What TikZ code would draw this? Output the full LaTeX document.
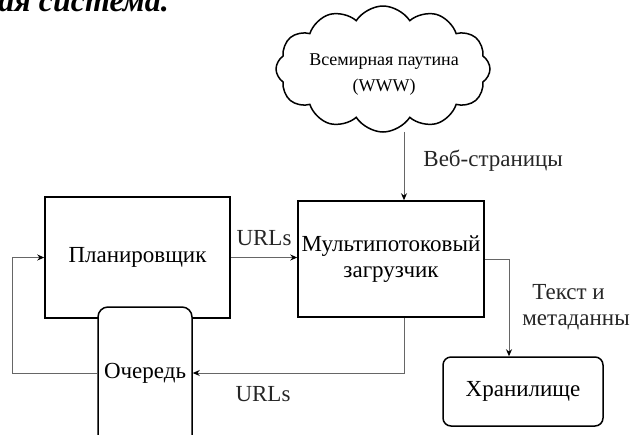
\documentclass[tikz,border=0pt]{standalone}
\usepackage{fontspec}
\setmainfont{Liberation Serif}
\usetikzlibrary{shapes.symbols,arrows.meta}
\begin{document}
\begin{tikzpicture}[x=0.5pt,y=-0.5pt,
  every node/.style={font=\fontsize{11.5}{13}\selectfont, inner sep=0pt},
  box/.style={draw=black, line width=0.75pt, fill=white},
  conn/.style={draw=black!60, line width=0.5pt, -{Stealth[length=3.5pt,width=3pt,black]}},
  lbl/.style={text=black!85}]
\useasboundingbox (0,0) rectangle (630,434);
% title (cut off at top)
\node[anchor=base west, font=\fontsize{16}{18}\selectfont\bfseries\itshape] (title) at (-2,11.5) {ая система.};
% cloud
\node[draw=black, line width=0.75pt, cloud, cloud puffs=12, cloud puff arc=115, aspect=1.7,
      inner sep=0pt, minimum width=107pt, minimum height=63pt] (cloud) at (383,69) {};
\node[align=center, font=\fontsize{9}{13}\selectfont] (www) at (384,75) {Всемирная паутина\\(WWW)};
% boxes
\node[box, minimum width=92.5pt, minimum height=60.5pt] (pl) at (137.5,257.5) {Планировщик};
\node[box, minimum width=93pt, minimum height=58pt, align=center] (dl) at (391,259) {Мультипотоковый\\загрузчик};
\node[box, rounded corners=5pt, minimum width=47pt, minimum height=82pt] (q) at (145,389) {};
\node (ql) at (145,373) {Очередь};
\node[box, rounded corners=4pt, minimum width=80pt, minimum height=34.5pt] (st) at (523,391.5) {Хранилище};
% helper coordinates
\coordinate (wx) at (404,0);
\coordinate (lx) at (12,0);
\coordinate (sx) at (509,0);
% connectors
\draw[conn] (cloud.south -| wx) ++(0,-1) -- (wx |- dl.north);
\node[lbl, anchor=west] (web) at (423,161) {Веб-страницы};
\draw[conn] (pl.east) -- (pl.east -| dl.west);
\node[lbl, anchor=south] (u1) at (264,246) {URLs};
\draw[conn] (q.west |- ql) -- (lx |- ql) |- (pl.west);
\draw[conn] (wx |- dl.south) |- (q.east |- ql);
\node[lbl] (u2) at (263,394) {URLs};
\draw[conn] (dl.east) -| (sx |- st.north);
\node[lbl, anchor=west, align=left] (tm) at (522,307) {\hspace*{5pt}Текст и\\метаданные};
\end{tikzpicture}
\end{document}
